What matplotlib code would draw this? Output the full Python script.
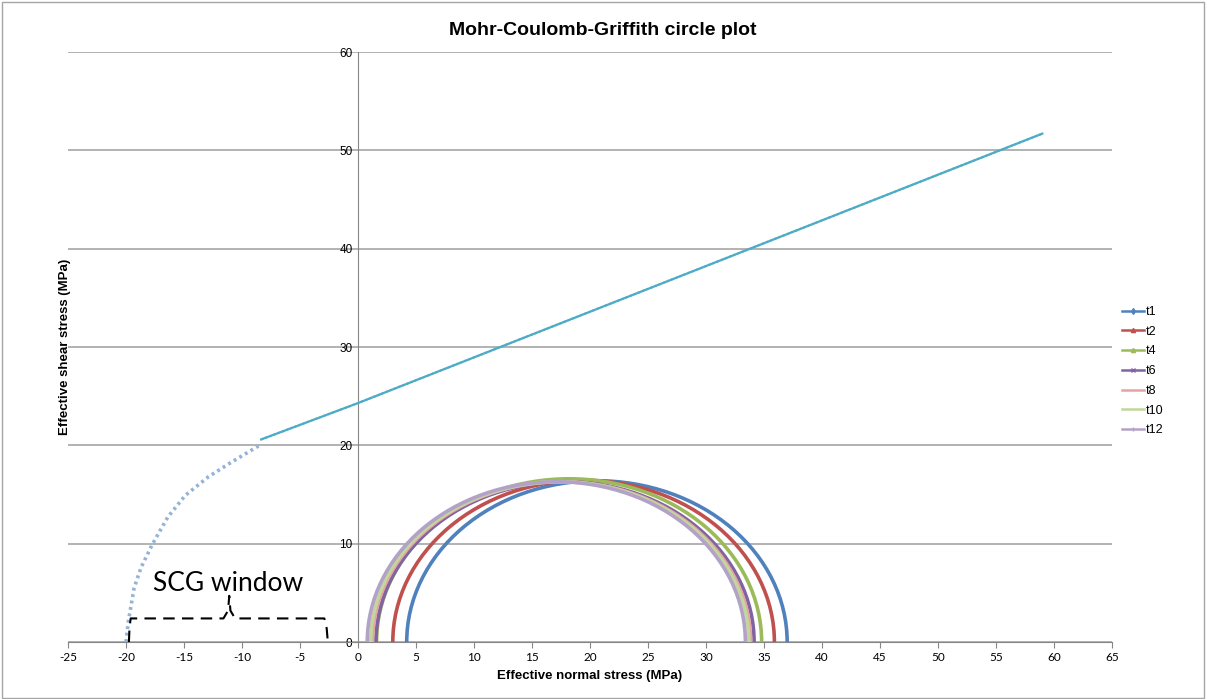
import matplotlib
matplotlib.use("Agg")
import matplotlib.pyplot as plt
from matplotlib.patches import Arc, Rectangle
from matplotlib.lines import Line2D

plt.rcParams['font.family'] = ['Liberation Sans', 'DejaVu Sans']
plt.rcParams['axes.unicode_minus'] = False

# Mohr circles: series names, centres and radii (MPa)
series = ['t1', 't2', 't4', 't6', 't8', 't10', 't12']
centres = [20.6, 19.45, 18.2, 17.85, 17.55, 17.4, 17.1]
radii = [16.4, 16.45, 16.6, 16.3, 16.3, 16.3, 16.3]
colours = ['#4F81BD', '#C0504D', '#9BBB59', '#8064A2', '#E6A3A1', '#C3D69B', '#B3A2C7']
markers = ['d', '^', '^', 'x', None, None, '|']

# Griffith (tensile) part of the envelope
griffith_sigma = [-20.0, -19.8, -19.3, -18.7, -17.7, -16.4, -14.9, -12.9, -10.9, -9.2, -8.35]
griffith_tau = [0.0, 2.1, 5.5, 7.6, 10.0, 12.7, 14.9, 16.8, 18.3, 19.5, 20.1]

# Coulomb (linear) part of the envelope
coulomb_sigma = [-8.35, 0.0, 59.0]
coulomb_tau = [20.6, 24.3, 51.7]

# hand-drawn "SCG window" brace
brace_x = [-19.75, -19.7, -19.6, -11.6, -11.2, -11.1, -11.0, -10.6, -2.9, -2.7, -2.6]
brace_y = [0.0, 1.4, 2.4, 2.4, 3.2, 4.7, 3.2, 2.4, 2.4, 1.4, 0.0]

fig = plt.figure(figsize=(12.06, 6.99), dpi=100)
ax = fig.add_axes([0.0564, 0.0815, 0.8656, 0.8441])

ax.plot(griffith_sigma, griffith_tau, color='#95B3D7', lw=2.6,
        linestyle=(0, (0.8, 1.0)), zorder=3)
ax.plot(coulomb_sigma, coulomb_tau, color='#95B3D7', lw=1.6,
        linestyle=(0, (1, 1)), zorder=3)
ax.plot(coulomb_sigma, coulomb_tau, color='#4BACC6', lw=1.6, zorder=4)

handles = []
for name, c, r, col, mk in zip(series, centres, radii, colours, markers):
    ax.add_patch(Arc((c, 0), 2 * r, 2 * r, theta1=0, theta2=180,
                     color=col, lw=2.6, zorder=5))
    handles.append(Line2D([], [], color=col, lw=1.8, marker=mk, markersize=3))

ax.plot(brace_x, brace_y, color='black', lw=1.5, linestyle=(0, (5.5, 3.5)), zorder=6)
ax.text(-11.2, 6.0, 'SCG window', fontsize=19, family=['Lato', 'DejaVu Sans'],
        ha='center', va='center')

ax.set_xlim(-25, 65)
ax.set_ylim(0, 60)
ax.set_xticks(range(-25, 66, 5))
ax.set_yticks(range(0, 61, 10))
ax.yaxis.grid(True, color='#A6A6A6', lw=1.2)
ax.set_axisbelow(True)
ax.spines['left'].set_position(('data', 0))
ax.spines['left'].set_color('#868686')
ax.spines['bottom'].set_color('#868686')
ax.spines['top'].set_visible(False)
ax.spines['right'].set_visible(False)
ax.tick_params(axis='x', labelsize=8.5, color='#868686', length=4, pad=3)
ax.tick_params(axis='y', labelsize=8.5, length=0, pad=4)
for lab in ax.get_xticklabels():
    lab.set_family(['Lato', 'DejaVu Sans'])

ax.set_xlabel('Effective normal stress (MPa)', fontsize=9.5, fontweight='bold', labelpad=5)
ax.set_ylabel('Effective shear stress (MPa)', fontsize=9.5, fontweight='bold')
ax.yaxis.set_label_coords(0.003, 0.5)
fig.suptitle('Mohr-Coulomb-Griffith circle plot', fontsize=14, fontweight='bold',
             x=0.5, y=0.968)

fig.legend(handles, series, loc='center left', bbox_to_anchor=(0.921, 0.469),
           frameon=False, fontsize=9, handlelength=1.8, handletextpad=0.1,
           labelspacing=0.62)

fig.patches.append(Rectangle((0.002, 0.002), 0.996, 0.995, transform=fig.transFigure,
                             fill=False, edgecolor='#A6A6A6', lw=1))

fig.savefig('out.png', dpi=100)
